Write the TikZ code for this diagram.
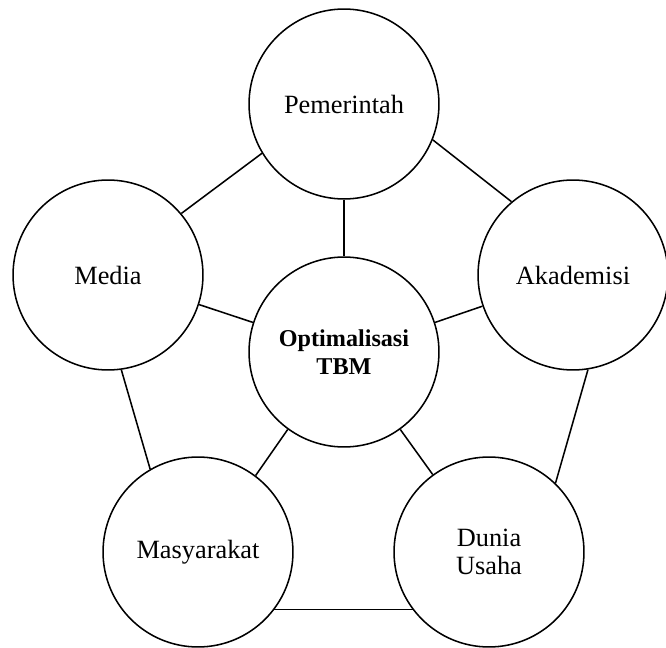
\documentclass[tikz,border=0pt]{standalone}
\usepackage{fontspec}
\setmainfont{Liberation Serif}
\usepackage{tikz}
\usetikzlibrary{positioning}

\begin{document}
\begin{tikzpicture}[
    x=0.016cm, y=-0.016cm,
    font={\fontsize{12}{13}\selectfont},
    actor/.style={circle,draw,line width=0.7pt,minimum size=3.04cm,inner sep=0pt,align=center},
    core/.style={actor,font={\fontsize{11}{12.5}\selectfont\bfseries}},
    link/.style={line width=0.7pt},
]
    \useasboundingbox (0,0) rectangle (666,647);

    % Actors
    \node[actor] (pem) at (344,104) {Pemerintah};
    \node[actor] (med) at (108,275) {Media};
    \node[actor] (aka) at (573,275) {Akademisi};
    \node[core]  (opt) at (344,352) {Optimalisasi\\TBM};
    \node[actor] (mas) at (198,552) {Masyarakat};
    \node[actor] (dun) at (489,552) {Dunia\\Usaha};

    % Actor links
    \draw[link] (pem.-149) -- (med.40);
    \draw[link] (pem.-22) -- (aka.130);
    \draw[link] (pem.south) -- (opt.north);
    \draw[link] (med.-18) -- (opt.162);
    \draw[link] (aka.-161) -- (opt.18);
    \draw[link] (med.-82) -- (mas.120);
    \draw[link] (aka.-81) -- (dun.46);
    \draw[link] (opt.-126) -- (mas.53);
    \draw[link] (opt.-54) -- (dun.126);
    \draw[link] (mas.-37) -- (dun.-143);

\end{tikzpicture}
\end{document}
